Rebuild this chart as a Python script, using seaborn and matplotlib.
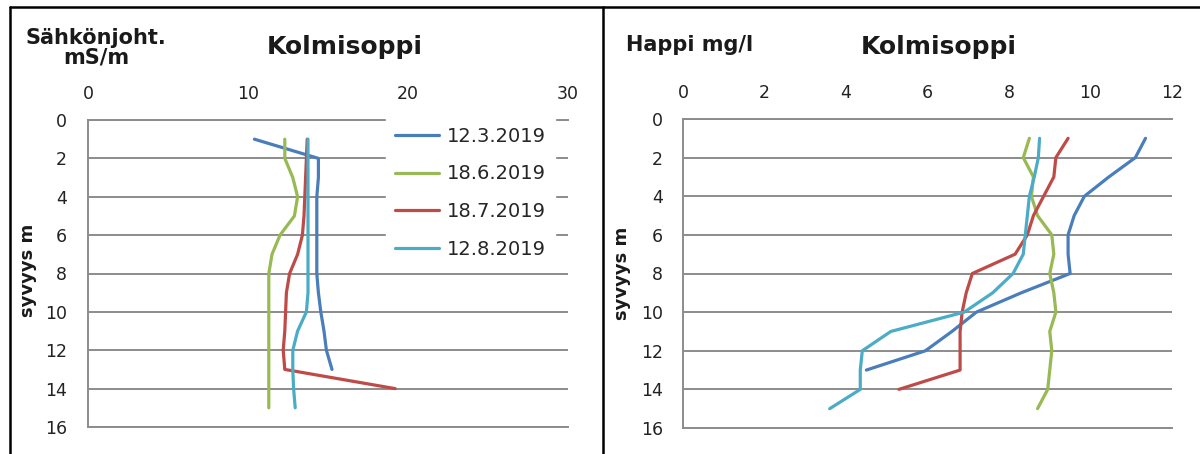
import matplotlib
matplotlib.use("Agg")
import matplotlib.pyplot as plt
from matplotlib.lines import Line2D
import pandas as pd
import seaborn as sns

# Sampling dates and their line colours
dates = ["12.3.2019", "18.6.2019", "18.7.2019", "12.8.2019"]
colors = ["#4A7EBB", "#98B954", "#BE4B48", "#4BACC6"]

# Sampling depths (m) for each date
depth_mar = list(range(1, 14))
depth_jun = list(range(1, 16))
depth_jul = list(range(1, 15))
depth_aug = list(range(1, 16))

# Electrical conductivity, mS/m
cond_mar = [10.4, 14.4, 14.4, 14.3, 14.3, 14.3, 14.3, 14.3, 14.4, 14.55, 14.75, 14.9, 15.25]
cond_jun = [12.3, 12.3, 12.8, 13.1, 12.9, 12.0, 11.5, 11.3, 11.3, 11.3, 11.3, 11.3, 11.3, 11.3, 11.3]
cond_jul = [13.7, 13.65, 13.6, 13.55, 13.5, 13.4, 13.1, 12.6, 12.4, 12.35, 12.3, 12.2, 12.3, 19.2]
cond_aug = [13.75, 13.75, 13.75, 13.75, 13.75, 13.75, 13.75, 13.75, 13.75, 13.65, 13.1, 12.8, 12.8, 12.85, 12.95]

# Dissolved oxygen, mg/l
oxy_mar = [11.35, 11.1, 10.45, 9.85, 9.6, 9.45, 9.45, 9.5, 8.3, 7.2, 6.6, 5.95, 4.5]
oxy_jun = [8.5, 8.35, 8.6, 8.55, 8.7, 9.05, 9.1, 9.0, 9.1, 9.15, 9.0, 9.05, 9.0, 8.95, 8.7]
oxy_jul = [9.45, 9.15, 9.1, 8.85, 8.6, 8.45, 8.15, 7.1, 6.95, 6.85, 6.8, 6.8, 6.8, 5.3]
oxy_aug = [8.75, 8.72, 8.62, 8.5, 8.45, 8.4, 8.35, 8.1, 7.6, 6.9, 5.1, 4.4, 4.35, 4.35, 3.6]

depths = [depth_mar, depth_jun, depth_jul, depth_aug]


def long_frame(series):
    rows = []
    for date, dep, vals in zip(dates, depths, series):
        for d, v in zip(dep, vals):
            rows.append({"date": date, "depth": d, "value": v})
    return pd.DataFrame(rows)


cond_df = long_frame([cond_mar, cond_jun, cond_jul, cond_aug])
oxy_df = long_frame([oxy_mar, oxy_jun, oxy_jul, oxy_aug])

sns.set_style("white")
plt.rcParams["font.family"] = ["DejaVu Sans"]

W, H = 1200, 454
fig = plt.figure(figsize=(W / 100, H / 100), dpi=100)
fig.patch.set_facecolor("white")

ax1 = fig.add_axes([88 / W, 1 - 427 / H, 480 / W, 307 / H])
ax2 = fig.add_axes([683 / W, 1 - 428 / H, 489 / W, 309 / H])

palette = dict(zip(dates, colors))
grid_col = "#8c8c8c"

for ax, df, xmax, xstep, ypad in [(ax1, cond_df, 30, 10, 15), (ax2, oxy_df, 12, 2, 14.4)]:
    sns.lineplot(data=df, x="value", y="depth", hue="date", hue_order=dates,
                 palette=palette, orient="y", estimator=None, sort=False,
                 legend=False, linewidth=2.3, ax=ax)
    ax.set_xlim(0, xmax)
    ax.set_xticks(list(range(0, xmax + 1, xstep)))
    ax.set_ylim(16, 0)
    ax.set_yticks(list(range(0, 17, 2)))
    ax.xaxis.tick_top()
    ax.set_xlabel("")
    ax.set_ylabel("")
    ax.tick_params(axis="x", length=0, pad=12, labelsize=12.5, labelcolor="#222222")
    ax.tick_params(axis="y", length=0, pad=ypad, labelsize=12.5, labelcolor="#222222")
    ax.grid(axis="y", color=grid_col, linewidth=1.4)
    ax.grid(axis="x", visible=False)
    ax.set_axisbelow(True)
    for side in ["left", "top", "bottom"]:
        ax.spines[side].set_visible(True)
        ax.spines[side].set_color(grid_col)
        ax.spines[side].set_linewidth(1.4)
    ax.spines["right"].set_visible(False)
    ax.set_facecolor("white")

handles = [Line2D([], [], color=c, linewidth=2.3) for c in colors]
leg = ax1.legend(handles=handles, labels=dates, loc="upper left",
                 bbox_to_anchor=(386 / W, 1 - 118 / H), bbox_transform=fig.transFigure,
                 fontsize=14, handlelength=2.3, handletextpad=0.4, labelspacing=0.96,
                 borderpad=0.45, borderaxespad=0, frameon=True, fancybox=False)
leg.get_frame().set_facecolor("white")
leg.get_frame().set_edgecolor("white")
leg.get_frame().set_alpha(1)

# Chart titles and axis captions
fig.text(345 / W, 1 - 47 / H, "Kolmisoppi", ha="center", va="center",
         fontsize=18, fontweight="bold", color="#1a1a1a")
fig.text(939 / W, 1 - 47 / H, "Kolmisoppi", ha="center", va="center",
         fontsize=18, fontweight="bold", color="#1a1a1a")
fig.text(96 / W, 1 - 48 / H, "Sähkönjoht.\nmS/m", ha="center", va="center",
         multialignment="center", linespacing=0.95,
         fontsize=15, fontweight="bold", color="#1a1a1a")
fig.text(690 / W, 1 - 45 / H, "Happi mg/l", ha="center", va="center",
         fontsize=15, fontweight="bold", color="#1a1a1a")
fig.text(28 / W, 1 - 270 / H, "syvyys m", rotation=90, ha="center", va="center",
         fontsize=13, fontweight="bold", color="#1a1a1a")
fig.text(622 / W, 1 - 273 / H, "syvyys m", rotation=90, ha="center", va="center",
         fontsize=13, fontweight="bold", color="#1a1a1a")

# Outer frame and divider between the two charts
frame_kw = dict(transform=fig.transFigure, color="black", linewidth=1.8)
fig.add_artist(Line2D([10 / W, 1], [1 - 7 / H, 1 - 7 / H], **frame_kw))
fig.add_artist(Line2D([10 / W, 10 / W], [0, 1 - 7 / H], **frame_kw))
fig.add_artist(Line2D([603 / W, 603 / W], [0, 1 - 7 / H], **frame_kw))

fig.savefig("out.png", dpi=100, facecolor="white")
